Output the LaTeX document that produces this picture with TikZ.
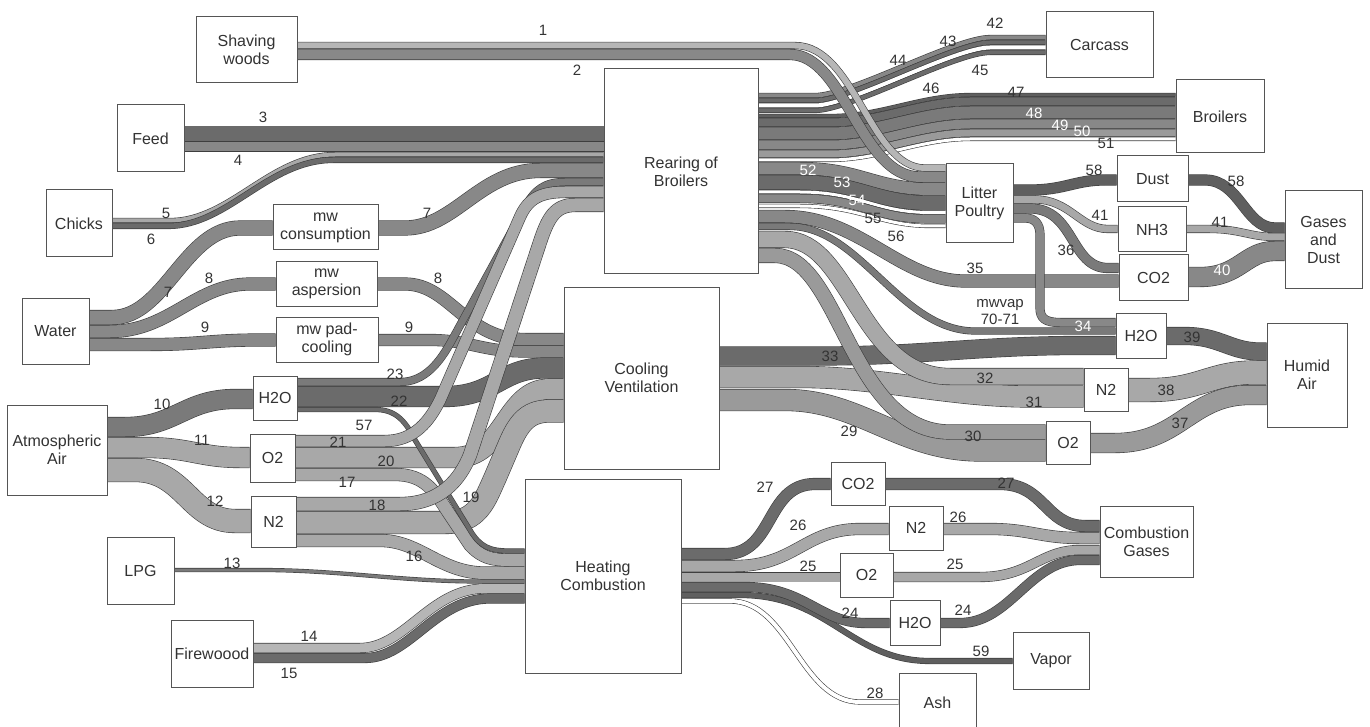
\documentclass[tikz,border=0pt]{standalone}
\usepackage{fontspec}
\setmainfont{Liberation Sans}
\pgfdeclarelayer{bands}
\pgfsetlayers{bands,main}
\definecolor{edge}{HTML}{3E3E3E}
\definecolor{boxline}{HTML}{555555}
\definecolor{labc}{HTML}{333333}
\definecolor{gA}{HTML}{5F5F5F}
\definecolor{gB}{HTML}{6B6B6B}
\definecolor{gC}{HTML}{7A7A7A}
\definecolor{gD}{HTML}{888888}
\definecolor{gE}{HTML}{9A9A9A}
\definecolor{gF}{HTML}{A8A8A8}
\definecolor{gG}{HTML}{B6B6B6}
\newcommand\bnd[3]{\draw[bandst,double=#1,double distance=#2] #3;}
\begin{document}
\begin{tikzpicture}[x=1pt,y=-1pt,
 box/.style={draw=boxline,line width=1pt,fill=white,align=center,inner sep=0pt,font=\fontsize{16}{18}\selectfont,text=labc},
 bandst/.style={draw=edge,line width=0.6pt},
 lab/.style={font=\fontsize{15}{17}\selectfont,text=labc,inner sep=0pt,align=center},
 wlab/.style={lab,text=white}]
\useasboundingbox (0,0) rectangle (1370,727);
% ---------------- nodes
\node[box,minimum width=101,minimum height=66] (shav) at (246.5,50) {Shaving\\woods};
\node[box,minimum width=67,minimum height=67] (feed) at (150.5,138.5) {Feed};
\node[box,minimum width=66,minimum height=67] (chicks) at (79,223.5) {Chicks};
\node[box,minimum width=67,minimum height=66] (water) at (55.5,331) {Water};
\node[box,minimum width=100,minimum height=90] (air) at (57,450) {Atmospheric\\Air};
\node[box,minimum width=67,minimum height=67] (lpg) at (140.5,570.5) {LPG};
\node[box,minimum width=82,minimum height=67] (fire) at (212,653.5) {Firewoood};
\node[box,minimum width=105,minimum height=45] (mwc) at (325.5,227.5) {mw\\consumption};
\node[box,minimum width=101,minimum height=44] (mwa) at (326.5,284) {mw\\aspersion};
\node[box,minimum width=102,minimum height=45] (mwp) at (327,339.5) {mw pad-\\cooling};
\node[box,minimum width=44,minimum height=44] (h2oL) at (275,398) {H2O};
\node[box,minimum width=45,minimum height=48] (o2L) at (272.5,458) {O2};
\node[box,minimum width=45,minimum height=51] (n2L) at (273.5,521.5) {N2};
\node[box,minimum width=154,minimum height=205] (rear) at (681,171.5) {Rearing of\\Broilers};
\node[box,minimum width=155,minimum height=182] (cool) at (641.5,378) {Cooling\\Ventilation};
\node[box,minimum width=156,minimum height=194] (heat) at (603,576) {Heating\\Combustion};
\node[box,minimum width=107,minimum height=66] (carc) at (1099.5,45) {Carcass};
\node[box,minimum width=88,minimum height=73] (broil) at (1220,116.5) {Broilers};
\node[box,minimum width=67,minimum height=79] (litter) at (979.5,203.5) {Litter\\Poultry};
\node[box,minimum width=71,minimum height=46] (dust) at (1152.5,179) {Dust};
\node[box,minimum width=68,minimum height=45] (nh3) at (1152,229.5) {NH3};
\node[box,minimum width=69,minimum height=45] (co2U) at (1153.5,277.5) {CO2};
\node[box,minimum width=77,minimum height=97] (gd) at (1323.5,239.5) {Gases\\and\\Dust};
\node[box,minimum width=50,minimum height=45] (h2oM) at (1141,335.5) {H2O};
\node[box,minimum width=44,minimum height=43] (n2M) at (1106,389.5) {N2};
\node[box,minimum width=44,minimum height=43] (o2M) at (1068,442.5) {O2};
\node[box,minimum width=80,minimum height=104] (humid) at (1307,375) {Humid\\Air};
\node[box,minimum width=54,minimum height=43] (co2D) at (858,483.5) {CO2};
\node[box,minimum width=54,minimum height=44] (n2D) at (916,528) {N2};
\node[box,minimum width=53,minimum height=44] (o2D) at (866.5,575) {O2};
\node[box,minimum width=50,minimum height=45] (h2oD) at (915,622.5) {H2O};
\node[box,minimum width=93,minimum height=71] (cg) at (1146.5,541.5) {Combustion\\Gases};
\node[box,minimum width=76,minimum height=57] (vapor) at (1051,660.5) {Vapor};
\node[box,minimum width=77,minimum height=60] (ash) at (937.5,703) {Ash};
% ---------------- bands
\begin{pgfonlayer}{bands}
\bnd{gB}{15}{(feed.east |- 0,134) -- (rear.west |- 0,134)}
\bnd{gD}{9}{(feed.east |- 0,147) -- (rear.west |- 0,147)}
\bnd{gF}{4}{(chicks.east |- 0,220.5) -- (170,220.5) .. controls (230,220.5) and (270,154.5) .. (335,154.5) -- (rear.west |- 0,154.5)}
\bnd{gB}{5}{(chicks.east |- 0,226) -- (168,226) .. controls (228,226) and (268,160) .. (333,160) -- (rear.west |- 0,160)}
\bnd{gD}{14}{(water.east |- 0,317.5) -- (112,317.5) .. controls (165,317.5) and (185,228) .. (240,228) -- (mwc.west |- 0,228)}
\bnd{gD}{14}{(mwc.east |- 0,228) -- (405,228) .. controls (455,228) and (480,170.5) .. (540,170.5) -- (rear.west |- 0,170.5)}
\bnd{gD}{12}{(water.east |- 0,331.5) -- (110,331.5) .. controls (170,331.5) and (195,284) .. (250,284) -- (mwa.west |- 0,284)}
\bnd{gD}{12}{(mwa.east |- 0,284) -- (405,284) .. controls (450,284) and (465,339.5) .. (525,339.5) -- (cool.west |- 0,339.5)}
\bnd{gD}{12}{(water.east |- 0,344.5) -- (150,344.5) .. controls (200,344.5) and (210,340) .. (260,340) -- (mwp.west |- 0,340)}
\bnd{gD}{11}{(mwp.east |- 0,340) -- (430,340) .. controls (470,340) and (480,351.5) .. (525,351.5) -- (cool.west |- 0,351.5)}
\bnd{gC}{19}{(air.east |- 0,427) -- (125,427) .. controls (175,427) and (185,399) .. (235,399) -- (h2oL.west |- 0,399)}
\bnd{gF}{20}{(air.east |- 0,447.5) -- (145,447.5) .. controls (190,447.5) and (200,457.5) .. (240,457.5) -- (o2L.west |- 0,457.5)}
\bnd{gF}{23}{(air.east |- 0,470) -- (135,470) .. controls (185,470) and (190,521) .. (235,521) -- (n2L.west |- 0,521)}
\bnd{gB}{20}{(h2oL.east |- 0,396.5) -- (445,396.5) .. controls (495,396.5) and (500,368) .. (545,368) -- (cool.west |- 0,368)}
\bnd{gF}{20}{(o2L.east |- 0,457.5) -- (455,457.5) .. controls (505,457.5) and (505,389) .. (550,389) -- (cool.west |- 0,389)}
\bnd{gF}{22}{(n2L.east |- 0,522.5) -- (445,522.5) .. controls (478,522.5) and (485,500) .. (495,478) -- (510,443) .. controls (520,420) and (530,411) .. (550,411) -- (cool.west |- 0,411)}
\bnd{gF}{12}{(n2L.east |- 0,540.5) -- (380,540.5) .. controls (420,540.5) and (440,573) .. (485,573) -- (heat.west |- 0,573)}
\bnd{gF}{12}{(o2L.east |- 0,474.5) -- (395,474.5) .. controls (425,474.5) and (435,492) .. (448,512) -- (470,545) .. controls (482,558) and (492,560) .. (510,560) -- (heat.west |- 0,560)}
\bnd{gB}{4}{(h2oL.east |- 0,409.5) -- (375,409.5) .. controls (395,409.5) and (405,420) .. (415,440) -- (470,530) .. controls (480,547) and (490,551) .. (510,551) -- (heat.west |- 0,551)}
\bnd{gC}{7}{(h2oL.east |- 0,382) -- (400,382) .. controls (425,382) and (440,362) .. (452,340) -- (525,207) .. controls (535,189) and (545,182) .. (565,182) -- (rear.west |- 0,182)}
\bnd{gF}{11}{(o2L.east |- 0,441) -- (385,441) .. controls (415,441) and (430,420) .. (440,400) -- (520,217) .. controls (528,199) and (540,192) .. (565,192) -- (rear.west |- 0,192)}
\bnd{gF}{13}{(n2L.east |- 0,504) -- (400,504) .. controls (440,504) and (460,480) .. (470,455) -- (540,242) .. controls (548,218) and (555,205) .. (575,205) -- (rear.west |- 0,205)}
\bnd{gC}{3}{(lpg.east |- 0,570) -- (260,570) .. controls (340,570) and (400,581.5) .. (480,581.5) -- (heat.west |- 0,581.5)}
\bnd{gG}{9}{(fire.east |- 0,648) -- (360,648) .. controls (405,648) and (430,588.5) .. (485,588.5) -- (heat.west |- 0,588.5)}
\bnd{gB}{9}{(fire.east |- 0,658) -- (365,658) .. controls (410,658) and (435,598.5) .. (490,598.5) -- (heat.west |- 0,598.5)}
% carcass
\bnd{gD}{4}{(rear.east |- 0,95.5) -- (815,95.5) .. controls (850,95.5) and (955,37.5) .. (990,37.5) -- (carc.west |- 0,37.5)}
\bnd{gB}{4}{(rear.east |- 0,100.5) -- (815,100.5) .. controls (850,100.5) and (955,42.5) .. (990,42.5) -- (carc.west |- 0,42.5)}
\bnd{white}{4}{(rear.east |- 0,105.5) -- (815,105.5) .. controls (850,105.5) and (955,47.5) .. (990,47.5) -- (carc.west |- 0,47.5)}
\bnd{gB}{4}{(rear.east |- 0,110.5) -- (815,110.5) .. controls (850,110.5) and (955,52.5) .. (990,52.5) -- (carc.west |- 0,52.5)}
% broilers
\bnd{gA}{3}{(rear.east |- 0,116) -- (830,116) .. controls (880,116) and (920,95) .. (970,95) -- (broil.west |- 0,95)}
\bnd{gB}{8}{(rear.east |- 0,122.5) -- (830,122.5) .. controls (880,122.5) and (920,101.5) .. (970,101.5) -- (broil.west |- 0,101.5)}
\bnd{gC}{12}{(rear.east |- 0,133.5) -- (830,133.5) .. controls (880,133.5) and (920,112.5) .. (970,112.5) -- (broil.west |- 0,112.5)}
\bnd{gD}{9}{(rear.east |- 0,145) -- (830,145) .. controls (880,145) and (920,124) .. (970,124) -- (broil.west |- 0,124)}
\bnd{gE}{7}{(rear.east |- 0,154) -- (830,154) .. controls (880,154) and (920,133) .. (970,133) -- (broil.west |- 0,133)}
\bnd{white}{3}{(rear.east |- 0,160) -- (830,160) .. controls (880,160) and (920,139) .. (970,139) -- (broil.west |- 0,139)}
% cooling outputs
\bnd{gB}{18}{(cool.east |- 0,356) -- (820,356) .. controls (920,356) and (980,345.5) .. (1080,345.5) -- (h2oM.west |- 0,345.5)}
\bnd{gF}{21}{(cool.east |- 0,377) -- (800,377) .. controls (880,377) and (950,396.5) .. (1030,396.5) -- (n2M.west |- 0,396.5)}
\bnd{gE}{21}{(cool.east |- 0,400) -- (785,400) .. controls (860,400) and (900,450.5) .. (980,450.5) -- (o2M.west |- 0,450.5)}
% rearing lower outputs
\bnd{gD}{12}{(rear.east |- 0,216.5) -- (785,216.5) .. controls (860,216.5) and (900,281) .. (965,281) -- (co2U.west |- 0,281)}
\bnd{gC}{6}{(rear.east |- 0,226.5) -- (790,226.5) .. controls (860,226.5) and (900,331) .. (975,331) -- (h2oM.west |- 0,331)}
\bnd{gF}{16}{(rear.east |- 0,239.5) -- (785,239.5) .. controls (850,239.5) and (860,376.5) .. (950,376.5) -- (n2M.west |- 0,376.5)}
\bnd{gE}{14}{(rear.east |- 0,255.5) -- (775,255.5) .. controls (840,255.5) and (850,432) .. (950,432) -- (o2M.west |- 0,432)}
% litter inputs
\bnd{gD}{12}{(rear.east |- 0,168.5) -- (800,168.5) .. controls (860,168.5) and (875,189) .. (930,189) -- (litter.west |- 0,189)}
\bnd{gB}{14}{(rear.east |- 0,182.5) -- (800,182.5) .. controls (860,182.5) and (875,203) .. (930,203) -- (litter.west |- 0,203)}
\bnd{white}{3}{(rear.east |- 0,192) -- (800,192) .. controls (860,192) and (875,212.5) .. (930,212.5) -- (litter.west |- 0,212.5)}
\bnd{gD}{8}{(rear.east |- 0,198.5) -- (800,198.5) .. controls (860,198.5) and (875,219) .. (930,219) -- (litter.west |- 0,219)}
\bnd{white}{3}{(rear.east |- 0,206) -- (800,206) .. controls (860,206) and (880,226) .. (930,226) -- (litter.west |- 0,226)}
\bnd{gG}{6}{(shav.east |- 0,45.5) -- (795,45.5) .. controls (855,45.5) and (870,168) .. (925,168) -- (litter.west |- 0,168)}
\bnd{gD}{10}{(shav.east |- 0,54.5) -- (790,54.5) .. controls (845,54.5) and (860,177) .. (920,177) -- (litter.west |- 0,177)}
% litter outputs
\bnd{gA}{10}{(litter.east |- 0,190) -- (1030,190) .. controls (1065,190) and (1075,180) .. (1105,180) -- (dust.west |- 0,180)}
\bnd{gF}{7}{(litter.east |- 0,199.5) -- (1035,199.5) .. controls (1070,199.5) and (1080,229) .. (1108,229) -- (nh3.west |- 0,229)}
\bnd{gC}{9}{(litter.east |- 0,208.5) -- (1030,208.5) .. controls (1075,208.5) and (1070,268) .. (1108,268) -- (co2U.west |- 0,268)}
\bnd{gD}{8}{(litter.east |- 0,218) -- (1025,218) .. controls (1035,218) and (1040,224) .. (1040,235) -- (1040,308) .. controls (1040,318) and (1045,322.5) .. (1060,322.5) -- (h2oM.west |- 0,322.5)}
% gases and dust
\bnd{gA}{10}{(dust.east |- 0,180) -- (1205,180) .. controls (1240,180) and (1245,228) .. (1275,228) -- (gd.west |- 0,228)}
\bnd{gF}{7}{(nh3.east |- 0,229) -- (1210,229) .. controls (1240,229) and (1250,237) .. (1275,237) -- (gd.west |- 0,237)}
\bnd{gD}{19}{(co2U.east |- 0,277) -- (1200,277) .. controls (1240,277) and (1245,251) .. (1275,251) -- (gd.west |- 0,251)}
% humid air
\bnd{gB}{17}{(h2oM.east |- 0,336) -- (1185,336) .. controls (1220,336) and (1230,351.5) .. (1260,351.5) -- (humid.west |- 0,351.5)}
\bnd{gF}{23}{(n2M.east |- 0,390) -- (1150,390) .. controls (1200,390) and (1210,372.5) .. (1255,372.5) -- (humid.west |- 0,372.5)}
\bnd{gE}{19}{(o2M.east |- 0,443) -- (1115,443) .. controls (1180,443) and (1190,395) .. (1250,395) -- (humid.west |- 0,395)}
% heating outputs
\bnd{gB}{11}{(heat.east |- 0,554) -- (725,554) .. controls (775,554) and (765,484) .. (815,484) -- (co2D.west |- 0,484)}
\bnd{gF}{11}{(heat.east |- 0,566) -- (735,566) .. controls (795,566) and (805,529) .. (860,529) -- (n2D.west |- 0,529)}
\bnd{gF}{9}{(heat.east |- 0,577) -- (o2D.west |- 0,577)}
\bnd{white}{4}{(heat.east |- 0,601) -- (730,601) .. controls (790,601) and (800,702) .. (860,702) -- (ash.west |- 0,702)}
\bnd{gA}{5}{(heat.east |- 0,595) -- (740,595) .. controls (830,595) and (850,661) .. (930,661) -- (vapor.west |- 0,661)}
\bnd{gB}{9}{(heat.east |- 0,587) -- (745,587) .. controls (805,587) and (820,623) .. (865,623) -- (h2oD.west |- 0,623)}
% combustion gases
\bnd{gB}{11}{(co2D.east |- 0,484) -- (1000,484) .. controls (1045,484) and (1045,526) .. (1085,526) -- (cg.west |- 0,526)}
\bnd{gF}{11}{(n2D.east |- 0,529) -- (990,529) .. controls (1030,529) and (1040,538) .. (1080,538) -- (cg.west |- 0,538)}
\bnd{gF}{9}{(o2D.east |- 0,577) -- (980,577) .. controls (1030,577) and (1040,550) .. (1080,550) -- (cg.west |- 0,550)}
\bnd{gB}{9}{(h2oD.east |- 0,623) -- (960,623) .. controls (1010,623) and (1030,560) .. (1080,560) -- (cg.west |- 0,560)}
\end{pgfonlayer}
% ---------------- labels
\node[lab] (l1) at (543,30) {1};
\node[lab] (l2) at (577,70) {2};
\node[lab] (l3) at (263,117) {3};
\node[lab] (l4) at (238,160) {4};
\node[lab] (l5) at (166,213) {5};
\node[lab] (l6) at (151,239) {6};
\node[lab] (l7a) at (168,292) {7};
\node[lab] (l7b) at (427,213) {7};
\node[lab] (l8a) at (209,278) {8};
\node[lab] (l8b) at (438,278) {8};
\node[lab] (l9a) at (205,327) {9};
\node[lab] (l9b) at (409,327) {9};
\node[lab] (l10) at (162,404) {10};
\node[lab] (l11) at (202,440) {11};
\node[lab] (l12) at (215,501) {12};
\node[lab] (l13) at (232,563) {13};
\node[lab] (l14) at (309,636) {14};
\node[lab] (l15) at (289,673) {15};
\node[lab] (l16) at (414,556) {16};
\node[lab] (l17) at (347,482) {17};
\node[lab] (l18) at (377,505) {18};
\node[lab] (l19) at (471,497) {19};
\node[lab] (l20) at (386,461) {20};
\node[lab] (l21) at (338,442) {21};
\node[lab] (l22) at (399,401) {22};
\node[lab] (l23) at (395,374) {23};
\node[lab] (l57) at (364,425) {57};
\node[lab] (l24a) at (850,613) {24};
\node[lab] (l24b) at (963,610) {24};
\node[lab] (l25a) at (808,566) {25};
\node[lab] (l25b) at (955,564) {25};
\node[lab] (l26a) at (798,525) {26};
\node[lab] (l26b) at (958,517) {26};
\node[lab] (l27a) at (765,487) {27};
\node[lab] (l27b) at (1006,483) {27};
\node[lab] (l28) at (875,693) {28};
\node[lab] (l59) at (981,651) {59};
\node[lab] (l29) at (849,431) {29};
\node[lab] (l30) at (973,436) {30};
\node[lab] (l31) at (1034,402) {31};
\node[lab] (l32) at (985,378) {32};
\node[lab] (l33) at (830,356) {33};
\node[wlab] (l34) at (1083,326) {34};
\node[lab] (l35) at (975,268) {35};
\node[lab] (l36) at (1066,250) {36};
\node[lab] (l37) at (1180,423) {37};
\node[lab] (l38) at (1166,390) {38};
\node[lab] (l39) at (1192,337) {39};
\node[wlab] (l40) at (1222,270) {40};
\node[lab] (l41a) at (1100,215) {41};
\node[lab] (l41b) at (1220,222) {41};
\node[lab] (l42) at (995,23) {42};
\node[lab] (l43) at (948,41) {43};
\node[lab] (l44) at (898,60) {44};
\node[lab] (l45) at (980,70) {45};
\node[lab] (l46) at (931,88) {46};
\node[lab] (l47) at (1016,92) {47};
\node[wlab] (l48) at (1034,113) {48};
\node[wlab] (l49) at (1060,125) {49};
\node[wlab] (l50) at (1082,131) {50};
\node[lab] (l51) at (1106,143) {51};
\node[wlab] (l52) at (808,170) {52};
\node[wlab] (l53) at (842,182) {53};
\node[wlab] (l54) at (857,200) {54};
\node[lab] (l55) at (873,218) {55};
\node[lab] (l56) at (896,236) {56};
\node[lab] (l58a) at (1094,170) {58};
\node[lab] (l58b) at (1236,181) {58};
\node[lab] (lmv) at (1000,312) {mwvap\\70-71};
\end{tikzpicture}
\end{document}
